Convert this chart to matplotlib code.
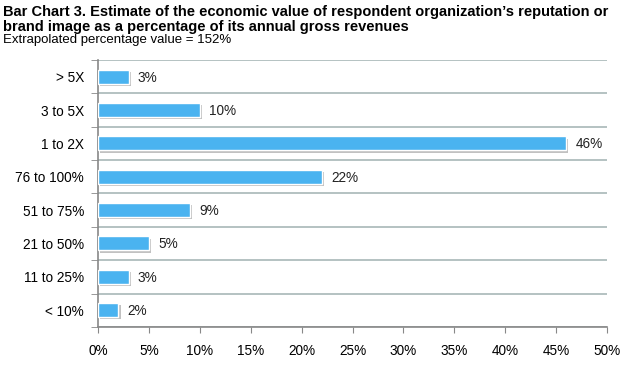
import matplotlib
matplotlib.use("Agg")
import matplotlib.pyplot as plt
import matplotlib.patheffects as pe
from matplotlib.ticker import FixedLocator

categories = ["> 5X", "3 to 5X", "1 to 2X", "76 to 100%", "51 to 75%",
              "21 to 50%", "11 to 25%", "< 10%"]
values = [3, 10, 46, 22, 9, 5, 3, 2]
xticks = [0, 5, 10, 15, 20, 25, 30, 35, 40, 45, 50]

plt.rcParams['font.family'] = ['Liberation Sans', 'DejaVu Sans']

fig = plt.figure(figsize=(6.33, 3.71), dpi=100)
ax = fig.add_axes([0.155, 0.119, 0.804, 0.719])

n = len(categories)
ypos = list(range(n))[::-1]
bars = ax.barh(ypos, values, height=0.42, color="#4AB3F0",
               edgecolor="white", linewidth=1.0, zorder=3)
for b in bars:
    b.set_path_effects([pe.SimplePatchShadow(offset=(1.5, -1.5),
                                             shadow_rgbFace="#999999", alpha=0.6),
                        pe.Normal()])

for y, v in zip(ypos, values):
    ax.text(v + 0.9, y - 0.03, f"{v}%", va="center", ha="left", fontsize=9.8, color="#222222")

ax.set_xlim(0, 50)
ax.set_ylim(-0.5, n - 0.5)
ax.set_xticks(xticks)
ax.set_xticklabels([f"{t}%" for t in xticks], fontsize=9.8)
ax.set_yticks(ypos)
ax.set_yticklabels(categories, fontsize=9.8)
ax.tick_params(axis="y", length=0, pad=10)
ax.yaxis.set_minor_locator(FixedLocator([i - 0.5 for i in range(n + 1)]))
ax.tick_params(axis="y", which="minor", length=5, color="#888888")
ax.tick_params(axis="x", length=4, color="#888888", pad=8)

for i in range(n + 1):
    ax.axhline(i - 0.5, color="#A8B8B8", linewidth=1.2, zorder=1)

for s in ["top", "right"]:
    ax.spines[s].set_visible(False)
ax.spines["left"].set_color("#888888")
ax.spines["bottom"].set_color("#888888")
ax.spines["left"].set_linewidth(1.2)
ax.spines["bottom"].set_linewidth(1.2)

H = 371.0
fig.text(0.004, 1 - 12 / H, "Bar Chart 3. Estimate of the economic value of respondent organization\u2019s reputation or",
         fontsize=10.5, fontweight="bold", va="center", ha="left")
fig.text(0.004, 1 - 26.5 / H, "brand image as a percentage of its annual gross revenues",
         fontsize=10.5, fontweight="bold", va="center", ha="left")
fig.text(0.004, 1 - 40.5 / H, "Extrapolated percentage value = 152%", fontsize=9.5,
         va="center", ha="left")

fig.savefig("out.png", dpi=100)
